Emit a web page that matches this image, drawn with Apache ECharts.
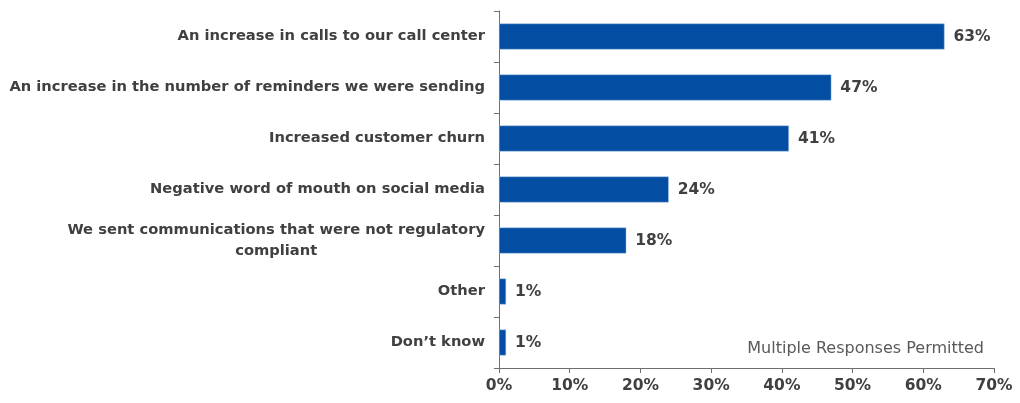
<!DOCTYPE html>
<html>
<head>
<meta charset="utf-8">
<script src="https://cdn.jsdelivr.net/npm/echarts@6/dist/echarts.min.js"></script>
<style>
  html, body { margin: 0; padding: 0; background: #fff; }
  #chart { width: 1020px; height: 403px; }
</style>
</head>
<body>
<div id="chart"></div>
<script>
const categories = [
  'An increase in calls to our call center',
  'An increase in the number of reminders we were sending',
  'Increased customer churn',
  'Negative word of mouth on social media',
  'We sent communications that were not regulatory\ncompliant',
  'Other',
  'Don\u2019t know'
]
const values = [63, 47, 41, 24, 18, 1, 1]
const xTicks = [0, 10, 20, 30, 40, 50, 60, 70]

const labelFont = 'DejaVu Sans'
const textColor = '#404040'
const catSize = 14.7

const chart = echarts.init(document.getElementById('chart'))

chart.setOption({
  animation: false,
  grid: { left: 499, right: 26, top: 11, bottom: 35 },
  xAxis: {
    type: 'value',
    min: xTicks[0],
    max: xTicks[xTicks.length - 1],
    interval: 10,
    splitLine: { show: false },
    axisLine: { show: true, lineStyle: { color: '#6f6f6f', width: 1 } },
    axisTick: { show: true, length: 5, lineStyle: { color: '#6f6f6f' } },
    axisLabel: {
      formatter: '{value}%',
      color: textColor,
      fontFamily: labelFont,
      fontWeight: 'bold',
      fontSize: 15.5,
      margin: 10
    }
  },
  yAxis: {
    type: 'category',
    data: categories,
    inverse: true,
    axisLine: { show: true, lineStyle: { color: '#6f6f6f', width: 1 } },
    axisTick: { show: true, length: 5, lineStyle: { color: '#6f6f6f' } },
    axisLabel: {
      color: textColor,
      fontFamily: labelFont,
      fontWeight: 'bold',
      fontSize: catSize,
      margin: 14,
      lineHeight: 21,
      formatter: v => v.indexOf('\n') >= 0 ? '{c|' + v + '}' : v,
      rich: {
        c: {
          align: 'center',
          color: textColor,
          fontFamily: labelFont,
          fontWeight: 'bold',
          fontSize: catSize,
          lineHeight: 21
        }
      }
    }
  },
  graphic: [{
    type: 'text',
    right: 36,
    top: 341,
    style: {
      text: 'Multiple Responses Permitted',
      fill: '#595959',
      font: '16px "DejaVu Sans"'
    }
  }],
  series: [{
    type: 'bar',
    data: values,
    barWidth: 26,
    itemStyle: { color: '#034EA2', borderColor: '#a9c4e6', borderWidth: 0.5 },
    label: {
      show: true,
      position: 'right',
      distance: 9,
      formatter: '{c}%',
      color: textColor,
      fontFamily: labelFont,
      fontWeight: 'bold',
      fontSize: 15.5
    }
  }]
})
</script>
</body>
</html>
